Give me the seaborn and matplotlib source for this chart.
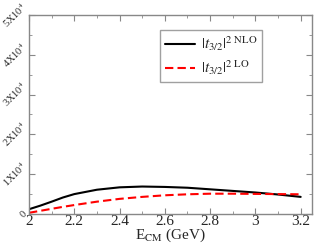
import numpy as np
import pandas as pd
import matplotlib
matplotlib.use('Agg')
import matplotlib.pyplot as plt
from matplotlib.ticker import MultipleLocator
import seaborn as sns

# values
energy = [2.0, 2.05, 2.1, 2.15, 2.2, 2.3, 2.4, 2.5, 2.6, 2.7, 2.8, 2.9, 3.0, 3.1, 3.2]
t_nlo = [1200, 2100, 3100, 4150, 5000, 6100, 6700, 6900, 6800, 6600, 6200, 5800, 5400, 4900, 4300]
t_lo = [300, 800, 1300, 1800, 2250, 3100, 3800, 4300, 4700, 4950, 5100, 5100, 5050, 5000, 4950]
labels = [r'$|t_{3/2}|^{2\ \mathrm{NLO}}$', r'$|t_{3/2}|^{2\ \mathrm{LO}}$']
ytick_vals = [0, 10000, 20000, 30000, 40000, 50000]
ytick_labels = ['0', r'1X10$^4$', r'2X10$^4$', r'3X10$^4$', r'4X10$^4$', r'5X10$^4$']

df = pd.DataFrame({
    'E': energy * 2,
    'val': t_nlo + t_lo,
    'kind': [labels[0]] * len(energy) + [labels[1]] * len(energy),
})

sns.set_style('ticks')
plt.rcParams['font.family'] = ['Liberation Serif', 'DejaVu Serif']
plt.rcParams['mathtext.fontset'] = 'stix'

fig = plt.figure(figsize=(3.14, 2.47), dpi=100)
ax = fig.add_axes([29 / 314, 1 - 214 / 247, 283 / 314, 199 / 247])

sns.lineplot(data=df, x='E', y='val', hue='kind', style='kind',
             palette=['black', 'red'], dashes=[(None, None), (4, 2)],
             linewidth=1.5, ax=ax, legend=True)

ax.set_xlim(2, 3.25)
ax.set_ylim(0, 50000)
ax.xaxis.set_major_locator(MultipleLocator(0.2))
ax.xaxis.set_minor_locator(MultipleLocator(0.1))
ax.set_yticks(ytick_vals, ytick_labels)
ax.yaxis.set_minor_locator(MultipleLocator(5000))
ax.set_xticks(ax.get_xticks(), [f'{v:g}' for v in ax.get_xticks()])
ax.set_xlim(2, 3.25)

grey = '#888888'
for s in ax.spines.values():
    s.set_color(grey)
    s.set_linewidth(1.0)
ax.tick_params(which='both', direction='in', top=True, right=True, color=grey,
               labelsize=11, pad=1)
ax.tick_params(axis='y', labelsize=7.5, pad=0, labelrotation=45)
ax.tick_params(which='major', length=4)
ax.tick_params(which='minor', length=2)
plt.setp(ax.get_yticklabels(), ha='right', va='center')

ax.set_xlabel(r'E$_{\rm CM}$ (GeV)', fontsize=11, labelpad=-1)
ax.set_ylabel('')

leg = ax.legend(loc='upper right', bbox_to_anchor=(0.824, 0.925), fontsize=11,
                frameon=True, fancybox=False, handlelength=2.0, handletextpad=0.4,
                borderpad=0.3, labelspacing=0.35, borderaxespad=0)
leg.get_frame().set_edgecolor(grey)
leg.get_frame().set_linewidth(1.0)

fig.savefig('out.png', dpi=100)
